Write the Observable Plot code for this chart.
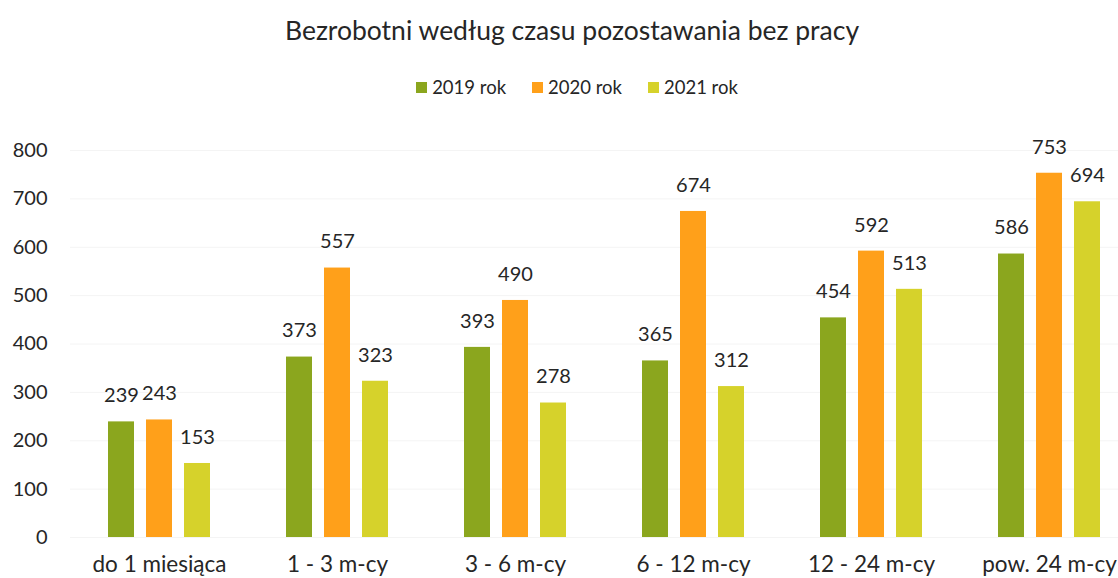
<!DOCTYPE html>
<html><head><meta charset="utf-8">
<script src="https://cdn.jsdelivr.net/npm/d3@7"></script>
<script src="https://cdn.jsdelivr.net/npm/@observablehq/plot@0.6"></script>
<style>
html,body{margin:0;padding:0;overflow:hidden;background:#fff;}
#wrap{width:1140px;font-family:Lato,sans-serif;color:#262626;}
#title{height:60px;line-height:60px;text-align:center;font-size:26.5px;padding-left:4px;}
#legend{height:54px;display:flex;justify-content:center;align-items:center;gap:26px;font-size:18.5px;padding-left:14px;}
.item{display:flex;align-items:center;gap:5px;}
.sw{width:11px;height:11px;display:inline-block;}
</style></head>
<body><div id="wrap">
<div id="title">Bezrobotni według czasu pozostawania bez pracy</div>
<div id="legend"></div>
<div id="chart"></div>
</div>
<script>
const categories = ["do 1 miesiąca","1 - 3 m-cy","3 - 6 m-cy","6 - 12 m-cy","12 - 24 m-cy","pow. 24 m-cy"];
const years = ["2019 rok","2020 rok","2021 rok"];
const v2019 = [239,373,393,365,454,586];
const v2020 = [243,557,490,674,592,753];
const v2021 = [153,323,278,312,513,694];
const colors = ["#8ba61e","#ffa01a","#d6d22b"];
const yTicks = [0,100,200,300,400,500,600,700,800];

const series = [v2019, v2020, v2021];
const data = categories.flatMap((c,i)=>years.map((y,j)=>({category:c, year:y, value:series[j][i]})));

const legend = document.getElementById("legend");
years.forEach((y,j)=>{
  const it = document.createElement("div"); it.className="item";
  const sw = document.createElement("span"); sw.className="sw"; sw.style.background=colors[j];
  const t = document.createElement("span"); t.textContent=y;
  it.appendChild(sw); it.appendChild(t); legend.appendChild(it);
});

const chart = Plot.plot({
  width:1140, height:464, marginLeft:70, marginRight:2, marginTop:36, marginBottom:41,
  style:{fontFamily:"Lato, sans-serif", fontSize:"20px", color:"#262626", background:"#fff"},
  fx:{domain:categories, padding:0, label:null, axis:"bottom", tickSize:0, tickPadding:19},
  x:{domain:years, axis:null, paddingInner:0.31, paddingOuter:0.94},
  y:{domain:[0,800], ticks:yTicks, label:null, tickSize:0, tickPadding:23},
  color:{domain:years, range:colors},
  marks:[
    Plot.gridY(yTicks,{stroke:"#f4f4f4", strokeOpacity:1}),
    Plot.barY(data,{fx:"category", x:"year", y:"value", fill:"year"}),
    Plot.text(data,{fx:"category", x:"year", y:"value", text:d=>String(d.value), dy:-26, fill:"#262626"})
  ]
});
d3.select(chart).selectAll('g[aria-label="fx-axis tick label"]').attr("font-size", 22.5);
document.getElementById("chart").appendChild(chart);
</script>
</body></html>
